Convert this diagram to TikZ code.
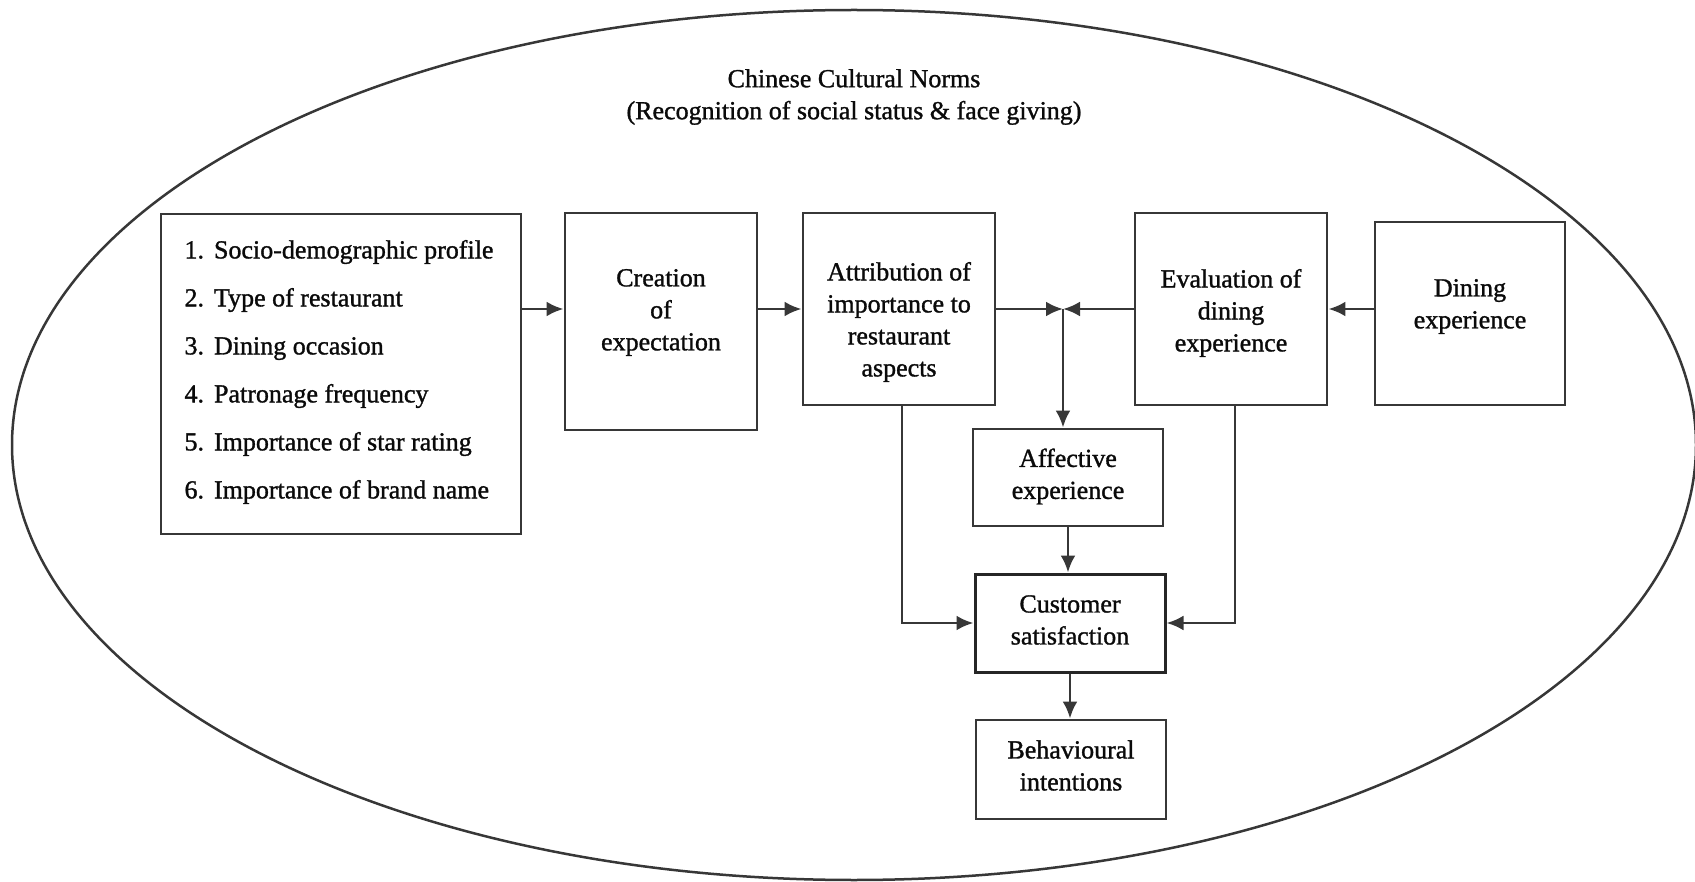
\documentclass[tikz,border=0pt]{standalone}
\usepackage{fontspec}
\setmainfont{Liberation Serif}[FakeBold=1.2]
\usetikzlibrary{arrows.meta,calc}
\definecolor{linegray}{RGB}{55,55,55}
\definecolor{textblack}{RGB}{10,10,10}

\begin{document}
\begin{tikzpicture}[x=1pt,y=-1pt,
  txt/.style={font=\fontsize{26}{32}\selectfont, text=textblack, align=center, inner sep=0pt},
  box/.style={draw=linegray, line width=2.9pt, inner sep=0pt},
  conn/.style={draw=linegray, line width=2.9pt, -{Latex[length=17pt,width=15pt]}},
]
\useasboundingbox (0,0) rectangle (1695,882);

% enclosing cultural context
\draw[draw=linegray, line width=2.5pt] (854,445) ellipse [x radius=842, y radius=435];

\node[txt] (norms) at (854,97)
  {Chinese Cultural Norms\\(Recognition of social status \& face giving)};

% boxes
\node[box, minimum width=360pt, minimum height=320pt] (list) at (341,374) {};
\node[box, minimum width=192pt, minimum height=217pt] (crea) at (661,321.5) {};
\node[box, minimum width=192pt, minimum height=192pt] (attr) at (899,309) {};
\node[box, minimum width=192pt, minimum height=192pt] (eval) at (1231,309) {};
\node[box, minimum width=190pt, minimum height=183pt] (dine) at (1470,313.5) {};
\node[box, minimum width=190pt, minimum height=97pt] (aff) at (1068,477.5) {};
\node[box, minimum width=190pt, minimum height=98pt, line width=3.0pt, draw=black!85] (cust) at (1070,623) {};
\node[box, minimum width=190pt, minimum height=99pt] (beh) at (1071,769.5) {};

% box texts
\node[txt, align=left, font=\fontsize{26}{48}\selectfont] (list-t) at ($(list)+(-2,-2)$)
  {1.\hspace{10pt}Socio-demographic profile\\
   2.\hspace{10pt}Type of restaurant\\
   3.\hspace{10pt}Dining occasion\\
   4.\hspace{10pt}Patronage frequency\\
   5.\hspace{10pt}Importance of star rating\\
   6.\hspace{10pt}Importance of brand name};
\node[txt] (crea-t) at ($(crea)+(0,-9)$) {Creation\\of\\expectation};
\node[txt] (attr-t) at ($(attr)+(0,13)$) {Attribution of\\importance to\\restaurant\\aspects};
\node[txt] (eval-t) at ($(eval)+(0,4)$) {Evaluation of\\dining\\experience};
\node[txt] (dine-t) at ($(dine)+(0,-7)$) {Dining\\experience};
\node[txt] (aff-t) at ($(aff)+(0,-1)$) {Affective\\experience};
\node[txt] (cust-t) at ($(cust)+(0,-3)$) {Customer\\satisfaction};
\node[txt] (beh-t) at ($(beh)+(0,-4)$) {Behavioural\\intentions};

\coordinate (junc) at (1063,309);

% connectors
\draw[conn] (list.east |- attr.west) -- (crea.west |- attr.west);
\draw[conn] (crea.east |- attr.west) -- (attr.west);
\draw[conn] (attr.east) -- (junc);
\draw[conn] (eval.west) -- (junc);
\draw[conn] (junc) -- (junc |- aff.north);
\draw[conn] (dine.west |- eval.east) -- (eval.east);
\draw[conn] (aff.south) -- (aff.south |- cust.north);
\draw[conn] (cust.south) -- (cust.south |- beh.north);
\draw[conn] ([xshift=3pt]attr.south) -- ([xshift=3pt]attr.south |- cust.west) -- (cust.west);
\draw[conn] ([xshift=4pt]eval.south) -- ([xshift=4pt]eval.south |- cust.east) -- (cust.east);
\end{tikzpicture}
\end{document}
